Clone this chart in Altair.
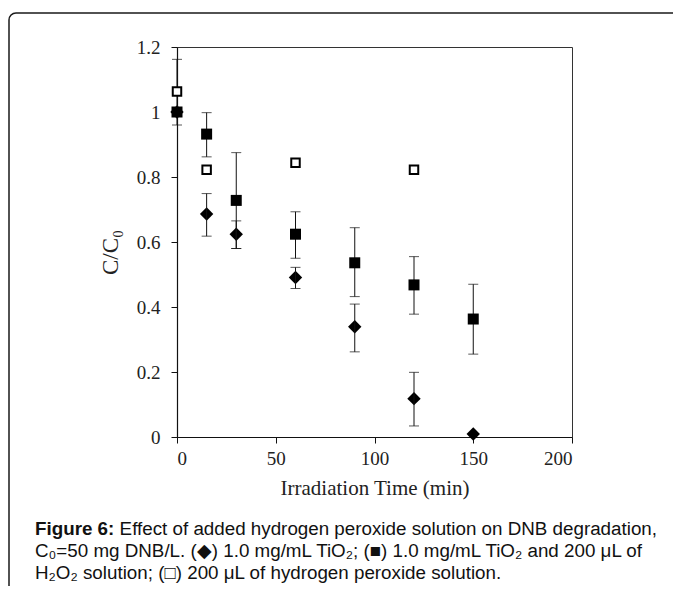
import altair as alt
import pandas as pd

# ---- data ----
time = [0, 15, 30, 60, 90, 120, 150]

tio2 = [1.0, 0.686, 0.624, 0.491, 0.339, 0.118, 0.009]
tio2_lo = [None, 0.618, 0.58, 0.457, 0.262, 0.034, None]
tio2_hi = [None, 0.749, 0.665, 0.522, 0.409, 0.199, None]

mix = [1.0, 0.932, 0.728, 0.624, 0.536, 0.468, 0.363]
mix_lo = [0.96, 0.862, 0.58, 0.55, 0.432, 0.378, 0.255]
mix_hi = [1.162, 0.998, 0.875, 0.693, 0.644, 0.555, 0.47]

h2o2_time = [0, 15, 60, 120]
h2o2 = [1.063, 0.822, 0.844, 0.822]
h2o2_lo = [1.059, 0.818, 0.840, 0.818]
h2o2_hi = [1.067, 0.826, 0.848, 0.826]

x_ticks = [0, 50, 100, 150, 200]
y_ticks = [0, 0.2, 0.4, 0.6, 0.8, 1.0, 1.2]

caption_bold = "Figure 6:"
caption_1 = "Effect of added hydrogen peroxide solution on DNB degradation,"
caption_2 = "C\u2080=50 mg DNB/L. (\u25c6) 1.0 mg/mL TiO\u2082; (\u25a0) 1.0 mg/mL TiO\u2082 and 200 \u03bcL of"
caption_3 = "H\u2082O\u2082 solution; (\u25a1) 200 \u03bcL of hydrogen peroxide solution."

# ---- tables ----
df_tio2 = pd.DataFrame({"t": time, "c": tio2})
df_mix = pd.DataFrame({"t": time, "c": mix})
df_h2o2 = pd.DataFrame({"t": h2o2_time, "c": h2o2})

err_rows = []
for t, lo, hi in zip(time, tio2_lo, tio2_hi):
    if lo is not None:
        err_rows.append({"t": t, "lo": lo, "hi": hi})
for t, lo, hi in zip(time, mix_lo, mix_hi):
    if lo is not None:
        err_rows.append({"t": t, "lo": lo, "hi": hi})
df_err = pd.DataFrame(err_rows)
df_err_h = pd.DataFrame({"t": h2o2_time, "lo": h2o2_lo, "hi": h2o2_hi})

W, H = 395, 390
SERIF = "Liberation Serif"
SANS = "Liberation Sans"

xs = alt.Scale(domain=[0, 200], nice=False)
ys = alt.Scale(domain=[0, 1.2], nice=False)

x_axis = alt.Axis(values=x_ticks, title="Irradiation Time (min)", grid=False,
                  tickSize=6, labelPadding=6, titlePadding=9)
y_axis = alt.Axis(values=y_ticks, title="C/C\u2080", grid=False, format=".1~f",
                  tickSize=6, labelPadding=11, titlePadding=14,
                  titleFontSize=23, titleY=205)

X = alt.X("t:Q", scale=xs, axis=x_axis)
Y = alt.Y("c:Q", scale=ys, axis=y_axis)

p_tio2 = alt.Chart(df_tio2).mark_point(
    shape="diamond", size=180, filled=True, color="black", opacity=1
).encode(x=X, y=Y)

err = alt.Chart(df_err).mark_errorbar(
    ticks=alt.TickConfig(size=10, color="#111", thickness=1),
    rule=alt.LineConfig(color="#111", strokeWidth=1),
).encode(
    x=X,
    y=alt.Y("lo:Q", scale=ys, axis=y_axis),
    y2="hi:Q",
)

err_h = alt.Chart(df_err_h).mark_errorbar(
    ticks=alt.TickConfig(size=6, color="#111", thickness=1),
    rule=alt.LineConfig(color="#111", strokeWidth=1),
).encode(
    x=X,
    y=alt.Y("lo:Q", scale=ys, axis=y_axis),
    y2="hi:Q",
)

p_mix = alt.Chart(df_mix).mark_point(
    shape="square", size=121, filled=True, color="black", opacity=1
).encode(x=X, y=Y)

p_h2o2 = alt.Chart(df_h2o2).mark_point(
    shape="square", size=72, filled=True, fill="white", stroke="black",
    strokeWidth=2, opacity=1
).encode(x=X, y=Y)

# decorative frame around the figure (relative to plot area origin)
frame = alt.Chart(pd.DataFrame({"k": [0]})).mark_rect(
    fill="transparent", stroke="#1a1a1a", strokeWidth=1.5, cornerRadius=7, clip=False
).encode(
    x=alt.value(-168), x2=alt.value(620), y=alt.value(-34), y2=alt.value(600)
)

CAP_FS = 18.8
CAP_X = -142
LINE_Y = [488, 510, 532]
bold_w = (611 + 278 + 611 + 611 + 389 + 556 + 278 + 556 + 333) / 1000 * CAP_FS
space_w = 278 / 1000 * CAP_FS

cap_df = pd.DataFrame({"k": [0]})
cap_b = alt.Chart(cap_df).mark_text(
    text=caption_bold, font=SANS, fontSize=CAP_FS, fontWeight="bold",
    align="left", baseline="alphabetic", color="#111"
).encode(x=alt.value(CAP_X), y=alt.value(LINE_Y[0]))
cap_1 = alt.Chart(cap_df).mark_text(
    text=caption_1, font=SANS, fontSize=CAP_FS,
    align="left", baseline="alphabetic", color="#111"
).encode(x=alt.value(CAP_X + bold_w + space_w), y=alt.value(LINE_Y[0]))
cap_2 = alt.Chart(cap_df).mark_text(
    text=caption_2, font=SANS, fontSize=CAP_FS,
    align="left", baseline="alphabetic", color="#111"
).encode(x=alt.value(CAP_X), y=alt.value(LINE_Y[1]))
cap_3 = alt.Chart(cap_df).mark_text(
    text=caption_3, font=SANS, fontSize=CAP_FS,
    align="left", baseline="alphabetic", color="#111"
).encode(x=alt.value(CAP_X), y=alt.value(LINE_Y[2]))

chart = alt.layer(
    p_tio2, frame, err, err_h, p_mix, p_h2o2, cap_b, cap_1, cap_2, cap_3
).properties(
    width=W, height=H,
    autosize=alt.AutoSizeParams(type="none"),
    padding={"left": 169, "top": 39, "right": 101, "bottom": 149},
).configure_view(
    stroke="#333", strokeWidth=1
).configure_axis(
    domainColor="#111", tickColor="#111", labelColor="#222", titleColor="#222",
    labelFont=SERIF, titleFont=SERIF, labelFontSize=19, titleFontSize=21,
    titleFontWeight="normal", domainWidth=1.2
)

chart.save("out.html", embed_options={"renderer": "svg", "actions": False})
